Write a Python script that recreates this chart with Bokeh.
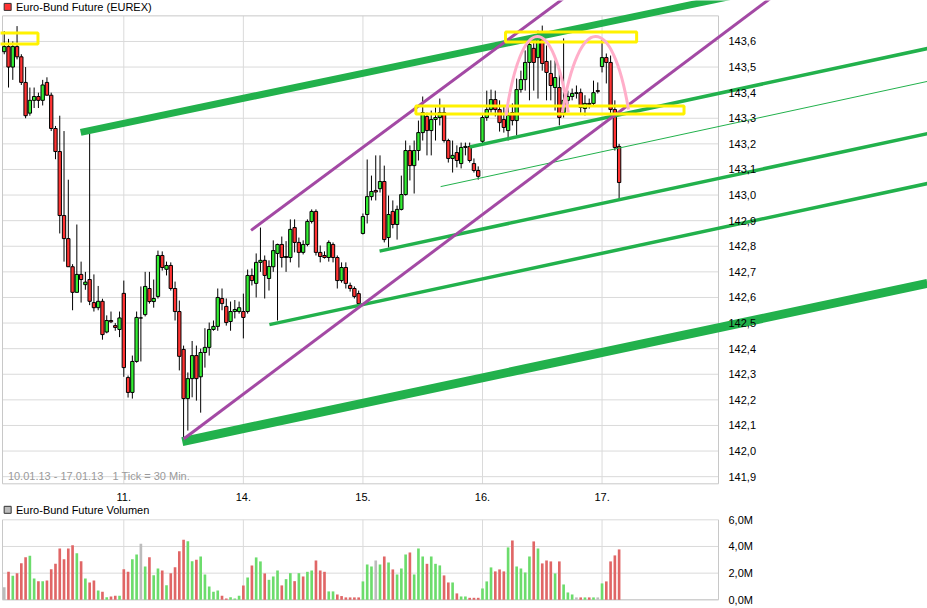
from bokeh.plotting import figure
from bokeh.models import Range1d, FixedTicker, LinearAxis, ColumnDataSource
from bokeh.embed import file_html
from bokeh.resources import INLINE
from bokeh.core.properties import value

# ---------------- data (30-minute candles, 10.01.13 - 17.01.13) ----------------
DAY_TICK_INDEX = [28, 56, 84, 112, 140]
DAY_TICK_LABELS = ["11.", "14.", "15.", "16.", "17."]

OPEN = [
    143.56, 143.58, 143.50, 143.58, 143.54, 143.44, 143.32, 143.37, 143.385, 143.37, 143.44, 143.39, 143.26, 143.17,
    142.92, 142.83, 142.72, 142.62, 142.69, 142.65, 142.67, 142.58, 142.56, 142.585, 142.465, 142.51, 142.49, 142.475,
    142.616, 142.287, 142.229, 142.35, 142.52, 142.533, 142.635, 142.584, 142.604, 142.764, 142.71, 142.725, 142.635, 142.545,
    142.397, 142.205, 142.283, 142.373, 142.29, 142.385, 142.405, 142.475, 142.487, 142.596, 142.565, 142.506, 142.545, 142.545,
    142.545, 142.545, 142.686, 142.655, 142.737, 142.745, 142.674, 142.72, 142.772, 142.807, 142.756, 142.756, 142.873, 142.815,
    142.776, 142.807, 142.897, 142.936, 142.776, 142.764, 142.756, 142.807, 142.756, 142.666, 142.717, 142.647, 142.635, 142.615,
    142.85, 142.924, 142.994, 143.018, 143.025, 143.053, 142.834, 142.936, 142.885, 142.944, 143.002, 143.174, 143.115, 143.174,
    143.244, 143.307, 143.252, 143.295, 143.303, 143.322, 143.213, 143.143, 143.166, 143.123, 143.186, 143.19, 143.123, 143.096,
    143.21, 143.303, 143.334, 143.373, 143.334, 143.295, 143.252, 143.322, 143.291, 143.412, 143.451, 143.518, 143.573, 143.537,
    143.612, 143.522, 143.475, 143.42, 143.42, 143.322, 143.37, 143.385, 143.397, 143.40, 143.338, 143.358, 143.358, 143.408,
    143.502, 143.537, 143.518, 143.334, 143.19,
]
HIGH = [
    143.64, 143.61, 143.60, 143.66, 143.55, 143.50, 143.42, 143.42, 143.40, 143.45, 143.46, 143.40, 143.27, 143.31,
    143.25, 143.06, 142.73, 142.885, 142.74, 142.70, 143.24, 142.69, 142.645, 142.595, 142.53, 142.545, 142.50, 142.545,
    142.666, 142.295, 142.373, 142.545, 142.643, 142.70, 142.70, 142.67, 142.783, 142.78, 142.74, 142.737, 142.662, 142.588,
    142.412, 142.307, 142.43, 142.412, 142.40, 142.48, 142.502, 142.51, 142.635, 142.635, 142.596, 142.584, 142.59, 142.584,
    142.615, 142.709, 142.713, 142.772, 142.873, 142.764, 142.745, 142.823, 142.81, 142.838, 142.82, 142.905, 142.905, 142.834,
    142.823, 142.905, 142.944, 142.944, 142.803, 142.78, 142.823, 142.815, 142.764, 142.737, 142.737, 142.658, 142.643, 142.627,
    142.928, 143.139, 143.076, 143.155, 143.155, 143.115, 142.998, 142.979, 142.959, 143.076, 143.213, 143.194, 143.213, 143.291,
    143.385, 143.322, 143.33, 143.342, 143.377, 143.35, 143.22, 143.213, 143.194, 143.205, 143.205, 143.205, 143.143, 143.112,
    143.315, 143.408, 143.412, 143.408, 143.37, 143.35, 143.346, 143.358, 143.455, 143.486, 143.565, 143.612, 143.604, 143.643,
    143.662, 143.584, 143.526, 143.526, 143.486, 143.612, 143.408, 143.416, 143.428, 143.416, 143.39, 143.377, 143.447, 143.44,
    143.612, 143.553, 143.545, 143.37, 143.20,
]
LOW = [
    143.55, 143.42, 143.45, 143.53, 143.43, 143.30, 143.31, 143.34, 143.34, 143.35, 143.39, 143.25, 143.14, 142.85,
    142.74, 142.72, 142.55, 142.62, 142.58, 142.63, 142.57, 142.545, 142.55, 142.435, 142.46, 142.50, 142.47, 142.445,
    142.29, 142.209, 142.205, 142.345, 142.35, 142.526, 142.576, 142.56, 142.596, 142.705, 142.686, 142.627, 142.51, 142.315,
    142.045, 142.08, 142.21, 142.197, 142.15, 142.326, 142.373, 142.47, 142.47, 142.55, 142.49, 142.47, 142.518, 142.537,
    142.44, 142.537, 142.647, 142.60, 142.70, 142.596, 142.627, 142.70, 142.51, 142.717, 142.70, 142.737, 142.776, 142.717,
    142.768, 142.80, 142.889, 142.764, 142.737, 142.752, 142.74, 142.737, 142.635, 142.658, 142.635, 142.623, 142.596, 142.569,
    142.846, 142.889, 142.979, 142.979, 143.01, 142.815, 142.795, 142.87, 142.826, 142.94, 142.998, 143.057, 143.006, 143.135,
    143.213, 143.155, 143.155, 143.213, 143.272, 143.205, 143.127, 143.088, 143.108, 143.104, 143.155, 143.127, 143.088, 143.06,
    143.20, 143.29, 143.322, 143.307, 143.248, 143.244, 143.213, 143.272, 143.233, 143.40, 143.408, 143.37, 143.408, 143.377,
    143.486, 143.37, 143.37, 143.33, 143.272, 143.303, 143.354, 143.37, 143.377, 143.322, 143.311, 143.338, 143.346, 143.397,
    143.479, 143.436, 143.32, 143.174, 142.979,
]
CLOSE = [
    143.58, 143.50, 143.58, 143.54, 143.44, 143.31, 143.37, 143.385, 143.37, 143.43, 143.39, 143.26, 143.17, 142.92,
    142.83, 142.72, 142.62, 142.69, 142.67, 142.66, 142.585, 142.56, 142.585, 142.455, 142.51, 142.505, 142.483, 142.52,
    142.326, 142.229, 142.35, 142.522, 142.52, 142.643, 142.584, 142.596, 142.764, 142.717, 142.725, 142.635, 142.545, 142.37,
    142.205, 142.283, 142.373, 142.283, 142.385, 142.405, 142.475, 142.487, 142.60, 142.576, 142.502, 142.545, 142.553, 142.56,
    142.522, 142.686, 142.666, 142.737, 142.745, 142.686, 142.721, 142.783, 142.807, 142.756, 142.76, 142.866, 142.815, 142.776,
    142.807, 142.897, 142.936, 142.776, 142.76, 142.756, 142.815, 142.756, 142.666, 142.717, 142.655, 142.635, 142.604, 142.576,
    142.916, 142.994, 143.014, 143.012, 143.053, 142.826, 142.924, 142.885, 142.944, 143.002, 143.174, 143.115, 143.174, 143.244,
    143.322, 143.252, 143.295, 143.303, 143.322, 143.213, 143.143, 143.155, 143.135, 143.186, 143.19, 143.135, 143.096, 143.073,
    143.303, 143.334, 143.373, 143.334, 143.283, 143.264, 143.311, 143.291, 143.412, 143.451, 143.518, 143.588, 143.518, 143.612,
    143.514, 143.479, 143.428, 143.459, 143.303, 143.37, 143.385, 143.397, 143.40, 143.342, 143.358, 143.354, 143.40, 143.405,
    143.537, 143.518, 143.334, 143.186, 143.049,
]
VOLUME_M = [
    0.95, 2.1, 1.8, 2.0, 2.75, 3.2, 3.3, 1.6, 1.4, 1.4, 1.45, 2.3, 2.7, 3.85, 3.05, 3.85, 4.1, 3.5, 2.9, 1.6, 1.3, 1.45, 0.7, 0.6, 0.2, 0.25, 0.3, 0.3,
    2.3, 2.1, 3.05, 3.4, 4.2, 2.5, 3.2, 1.85, 2.35, 2.2, 1.1, 2.0, 2.45, 3.65, 4.5, 4.4, 2.9, 3.0, 3.25, 1.9, 1.0, 0.6, 0.7, 0.3, 0.1, 0.2, 0.1, 0.3,
    1.08, 1.68, 2.58, 3.18, 2.88, 1.98, 1.5, 1.75, 2.2, 1.08, 1.55, 2.0, 1.4, 2.0, 1.75, 2.1, 2.2, 2.95, 2.2, 2.1, 0.63, 0.63, 0.4, 0.28, 0.18, 0.18, 0.18, 0.18,
    1.38, 2.65, 2.5, 2.95, 2.65, 3.25, 2.8, 2.28, 1.9, 2.35, 3.4, 3.55, 1.9, 3.85, 3.25, 2.7, 3.25, 2.7, 2.58, 1.83, 1.3, 1.3, 0.48, 0.25, 0.25, 0.15, 0.15, 0.15,
    0.85, 1.38, 2.43, 2.13, 2.28, 2.13, 3.93, 4.45, 2.5, 2.35, 2.05, 3.25, 4.38, 3.85, 2.73, 2.95, 2.88, 1.98, 2.88, 1.15, 0.55, 0.4, 0.18, 0.18, 0.18, 0.18, 0.18, 0.18,
    1.23, 1.38, 2.88, 3.33, 3.78,
]
VOLUME_DIR = (
    "n d u d d d u u d u d d d d d d d u d u d d u d u d d u "
    "d d u u n u d u u d u d d d d u u d u u u u u d d u u u "
    "d u d u u d u u u d u u d u d u u d d d u u d d d d d d "
    "u u u n u d u d u u u d u u u d u u u d d u d u u d d d "
    "u u u d d d u d u u u u d u d d d u d u u u n d u d u n "
    "u d d d d"
).split()

PRICE_TICKS = [141.9, 142.0, 142.1, 142.2, 142.3, 142.4, 142.5, 142.6, 142.7, 142.8, 142.9,
               143.0, 143.1, 143.2, 143.3, 143.4, 143.5, 143.6]
PRICE_TICK_LABELS = ["141,9", "142,0", "142,1", "142,2", "142,3", "142,4", "142,5", "142,6", "142,7",
                     "142,8", "142,9", "143,0", "143,1", "143,2", "143,3", "143,4", "143,5", "143,6"]
VOL_TICKS_M = [0, 2, 4, 6]
VOL_TICK_LABELS = ["0,0M", "2,0M", "4,0M", "6,0M"]

# hand-drawn analysis objects (candle index, price)
GREEN_THICK_X = [[17.9, 172.4], [41.7, 216.2]]
GREEN_THICK_Y = [[143.245, 143.784], [142.037, 142.655]]
GREEN_MID_X = [[62.1, 216.2], [87.9, 216.2], [109.0, 216.2]]
GREEN_MID_Y = [[142.494, 143.045], [142.781, 143.240], [143.188, 143.5725]]
GREEN_THIN_X = [102.2, 216.2]
GREEN_THIN_Y = [143.033, 143.444]
PURPLE_X = [[57.8, 132.5], [42.0, 180.6]]
PURPLE_Y = [[142.862, 143.787], [142.047, 143.783]]
YELLOW_LEFT = [-1.35, 117.4, 96.4]
YELLOW_RIGHT = [7.9, 148.1, 159.2]
YELLOW_BOTTOM = [143.590, 143.598, 143.317]
YELLOW_TOP = [143.633, 143.637, 143.348]
ARC_START_X = [117.5, 130.7]
ARC_START_Y = [143.311, 143.3225]
ARC_END_X = [132.1, 146.2]
ARC_END_Y = [143.3225, 143.334]
ARC_PEAK_Y = [143.619, 143.619]

# ---------------- layout constants ----------------
FONT = value("Liberation Sans")
X_LEFT, X_RIGHT = -0.878, 216.22          # whole canvas width
P_BOTTOM, P_TOP = 141.385, 143.76          # price scale over whole canvas height
V_BOTTOM, V_TOP = -0.6525, 44.96           # volume scale over whole canvas height
AXIS_X = 167.27
FRAME_LEFT = -0.41
BORDER_TOP = 143.700
BORDER_BOTTOM = 141.872
GRID = "#dadada"
BORDER = "#c8c8c8"

p = figure(width=927, height=608, x_range=Range1d(X_LEFT, X_RIGHT), y_range=Range1d(P_BOTTOM, P_TOP),
           output_backend="svg", toolbar_location=None, x_axis_location=None, y_axis_location=None,
           min_border=0)
p.extra_y_ranges = {"vol": Range1d(V_BOTTOM, V_TOP)}
p.grid.visible = False
p.outline_line_color = None
p.background_fill_color = "white"
p.border_fill_color = "white"


def style_axis(ax, standoff):
    ax.axis_line_color = None
    ax.major_tick_line_color = None
    ax.minor_tick_line_color = None
    ax.major_label_standoff = standoff
    ax.major_label_text_font = "Liberation Sans"
    ax.major_label_text_font_size = "11px"
    ax.major_label_text_color = "black"


xa = LinearAxis(fixed_location=BORDER_BOTTOM, ticker=FixedTicker(ticks=DAY_TICK_INDEX),
                major_label_overrides=dict(zip(DAY_TICK_INDEX, DAY_TICK_LABELS)))
style_axis(xa, 3)
p.add_layout(xa, "below")

ya = LinearAxis(fixed_location=AXIS_X, ticker=FixedTicker(ticks=PRICE_TICKS),
                major_label_overrides=dict(zip(PRICE_TICKS, PRICE_TICK_LABELS)))
style_axis(ya, 4)
p.add_layout(ya, "right")

va = LinearAxis(y_range_name="vol", fixed_location=AXIS_X, ticker=FixedTicker(ticks=VOL_TICKS_M),
                major_label_overrides=dict(zip(VOL_TICKS_M, VOL_TICK_LABELS)))
style_axis(va, 4)
p.add_layout(va, "right")

# ---- price panel grid and frame ----
n = len(PRICE_TICKS)
p.segment(x0=[FRAME_LEFT] * n, y0=PRICE_TICKS, x1=[AXIS_X] * n, y1=PRICE_TICKS, line_color=GRID, line_width=1)
p.segment(x0=DAY_TICK_INDEX, y0=[BORDER_BOTTOM] * 5, x1=DAY_TICK_INDEX, y1=[BORDER_TOP] * 5,
          line_color=GRID, line_width=1)
p.segment(x0=[FRAME_LEFT, FRAME_LEFT, FRAME_LEFT, AXIS_X], y0=[BORDER_TOP, BORDER_BOTTOM, BORDER_BOTTOM, BORDER_BOTTOM],
          x1=[AXIS_X, AXIS_X, FRAME_LEFT, AXIS_X], y1=[BORDER_TOP, BORDER_BOTTOM, BORDER_TOP, BORDER_TOP],
          line_color=BORDER, line_width=1)

p.text(x=[0.85], y=[141.901], text=["10.01.13 - 17.01.13\u00a0\u00a0\u00a01 Tick = 30 Min."], text_font=FONT,
       text_font_size="11px", text_color="#9a9a9a", text_baseline="middle")

# ---- candles ----
idx = list(range(len(OPEN)))
body_top = [max(o, c) for o, c in zip(OPEN, CLOSE)]
body_bot = [min(o, c) for o, c in zip(OPEN, CLOSE)]
cand_col = ["#33ee33" if c >= o else "#ff3333" for o, c in zip(OPEN, CLOSE)]
src = ColumnDataSource(dict(x=idx, high=HIGH, low=LOW, top=body_top, bottom=body_bot, color=cand_col))
p.segment(x0="x", y0="low", x1="x", y1="high", source=src, line_color="black", line_width=1)
p.vbar(x="x", width=0.78, top="top", bottom="bottom", source=src, fill_color="color",
       line_color="black", line_width=1)

# ---- title ----
p.scatter(x=[0.8], y=[143.735], marker="square", size=7, fill_color="#ff3333", line_color="#333333")
p.text(x=[2.75], y=[143.735], text=["Euro-Bund Future (EUREX)"], text_font=FONT, text_font_size="11px",
       text_color="black", text_baseline="middle")

# ---- analysis drawings ----
p.multi_line(xs=GREEN_MID_X, ys=GREEN_MID_Y, line_color="#22b14c", line_width=3.5)
p.line(GREEN_THIN_X, GREEN_THIN_Y, line_color="#22b14c", line_width=1)
p.multi_line(xs=[GREEN_THICK_X[0]], ys=[GREEN_THICK_Y[0]], line_color="#22b14c", line_width=7)
p.multi_line(xs=[GREEN_THICK_X[1]], ys=[GREEN_THICK_Y[1]], line_color="#22b14c", line_width=9)
p.multi_line(xs=PURPLE_X, ys=PURPLE_Y, line_color="#a349a4", line_width=3)
p.quad(left=YELLOW_LEFT, right=YELLOW_RIGHT, bottom=YELLOW_BOTTOM, top=YELLOW_TOP,
       fill_color=None, line_color="#fff200", line_width=3)

cx0 = [x0 + 0.25 * (x1 - x0) for x0, x1 in zip(ARC_START_X, ARC_END_X)]
cx1 = [x1 - 0.25 * (x1 - x0) for x0, x1 in zip(ARC_START_X, ARC_END_X)]
cy = [(pk - 0.125 * (y0 + y1)) / 0.75 for pk, y0, y1 in zip(ARC_PEAK_Y, ARC_START_Y, ARC_END_Y)]
p.bezier(x0=ARC_START_X, y0=ARC_START_Y, x1=ARC_END_X, y1=ARC_END_Y, cx0=cx0, cy0=cy, cx1=cx1, cy1=cy,
         line_color="#ffaec9", line_width=3)

# ---- volume panel ----
p.segment(x0=[FRAME_LEFT] * 4, y0=VOL_TICKS_M, x1=[AXIS_X] * 4, y1=VOL_TICKS_M, line_color=GRID,
          line_width=1, y_range_name="vol")
p.segment(x0=DAY_TICK_INDEX, y0=[0] * 5, x1=DAY_TICK_INDEX, y1=[6] * 5, line_color=GRID, line_width=1,
          y_range_name="vol")
p.segment(x0=[FRAME_LEFT, AXIS_X, FRAME_LEFT], y0=[0, 0, 0], x1=[FRAME_LEFT, AXIS_X, AXIS_X], y1=[6, 6, 0],
          line_color=BORDER, line_width=1, y_range_name="vol")

vol_col = {"u": "#6cdc6c", "d": "#e06666", "n": "#bcbcbc"}
vsrc = ColumnDataSource(dict(x=idx, v=VOLUME_M, color=[vol_col[d] for d in VOLUME_DIR]))
p.vbar(x="x", width=0.62, top="v", bottom=0, source=vsrc, fill_color="color", line_color=None,
       y_range_name="vol")

p.scatter(x=[0.8], y=[6.75], marker="square", size=7, fill_color="#bcbcbc", line_color="#333333",
          y_range_name="vol")
p.text(x=[2.75], y=[6.75], text=["Euro-Bund Future Volumen"], text_font=FONT, text_font_size="11px",
       text_color="black", text_baseline="middle", y_range_name="vol")

open("out.html", "w").write(file_html(p, INLINE))
